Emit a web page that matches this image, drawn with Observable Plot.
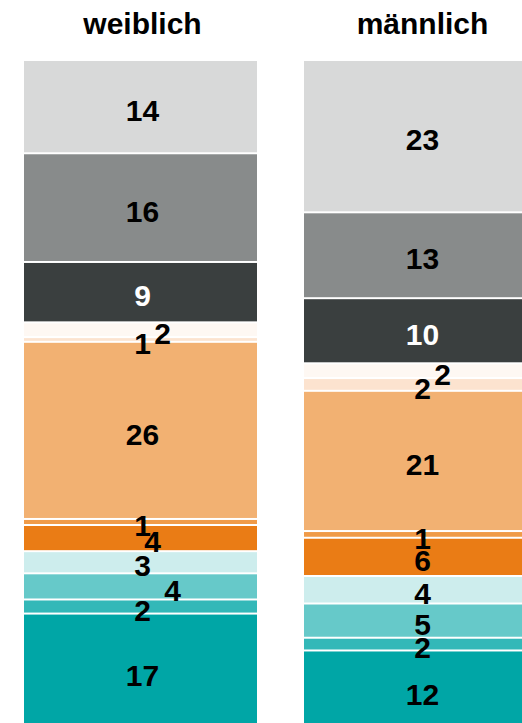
<!DOCTYPE html>
<html>
<head>
<meta charset="utf-8">
<script src="https://cdn.jsdelivr.net/npm/d3@7"></script>
<script src="https://cdn.jsdelivr.net/npm/@observablehq/plot@0.6"></script>
<style>
  html, body { margin: 0; padding: 0; background: #fff; overflow: hidden; }
</style>
</head>
<body>
<div id="chart"></div>
<script>
// Bars (columns)
const genders = ["weiblich", "männlich"];

// Segments, listed from the top of each bar to the bottom
const segments = ["S1", "S2", "S3", "S4", "S5", "S6", "S7", "S8", "S9", "S10", "S11", "S12"];
const segmentColors = ["#d8d9d9", "#888b8b", "#3a3f3f", "#fef8f3", "#fce3cf", "#f2b172",
                       "#f09b48", "#ea7c15", "#cdeded", "#66c9c9", "#33b8b8", "#00a6a6"];

// Shares in percent (labels are the rounded values)
const weiblich  = [13.9, 16.2, 9.0, 2.2, 0.7, 26.4, 0.9, 3.9, 3.3, 3.9, 2.1, 17.4];
const maennlich = [22.7, 12.8, 9.7, 2.2, 1.9, 20.9, 1.0, 5.7, 4.1, 5.1, 1.9, 12.1];
const seriesByGender = {"weiblich": weiblich, "männlich": maennlich};

// Horizontal nudges of crowded labels (pixels)
const labelShift = {"weiblich|S4": 20, "weiblich|S8": 10, "weiblich|S10": 30, "männlich|S4": 20};

const table = genders.flatMap(g =>
  segments.map((s, i) => ({gender: g, segment: s, value: seriesByGender[g][i]}))
);

const colorOf = s => segmentColors[segments.indexOf(s)];
const textColorOf = d => d3.hsl(colorOf(d.segment)).l < 0.28 ? "white" : "black";
const shiftOf = d => labelShift[d.gender + "|" + d.segment] ?? 0;

const groups = Array.from(new Set(table.map(d => shiftOf(d) + "|" + textColorOf(d))));

const labelMarks = groups.map(key => {
  const [shift, color] = key.split("|");
  return Plot.text(table, Plot.filter(
    d => (shiftOf(d) + "|" + textColorOf(d)) === key,
    Plot.stackY({
      x: "gender",
      y: "value",
      text: d => String(Math.round(d.value)),
      fill: color,
      dx: +shift + 1.5,
      dy: 4,
      fontSize: 30,
      fontWeight: "bold"
    })
  ));
});

const chart = Plot.plot({
  width: 522,
  height: 740,
  marginTop: 60,
  marginBottom: 9,
  marginLeft: 0,
  marginRight: 0,
  style: {fontFamily: "'Liberation Sans', Arial, Helvetica, sans-serif", background: "white"},
  x: {domain: genders, range: [23.3, 537.4], paddingInner: 0.1685, paddingOuter: 0, axis: null},
  y: {domain: [0, 100], range: [60, 731], axis: null},
  color: {domain: segments, range: segmentColors},
  marks: [
    Plot.barY(table, Plot.stackY({
      x: "gender",
      y: "value",
      fill: "segment",
      insetTop: 1,
      insetBottom: 1
    })),
    ...labelMarks,
    Plot.text(genders, {
      x: d => d,
      text: d => d,
      frameAnchor: "top",
      lineAnchor: "middle",
      dx: 1.5,
      dy: -36,
      fontSize: 30,
      fontWeight: "bold",
      fill: "black"
    })
  ]
});

document.getElementById("chart").appendChild(chart);
</script>
</body>
</html>
